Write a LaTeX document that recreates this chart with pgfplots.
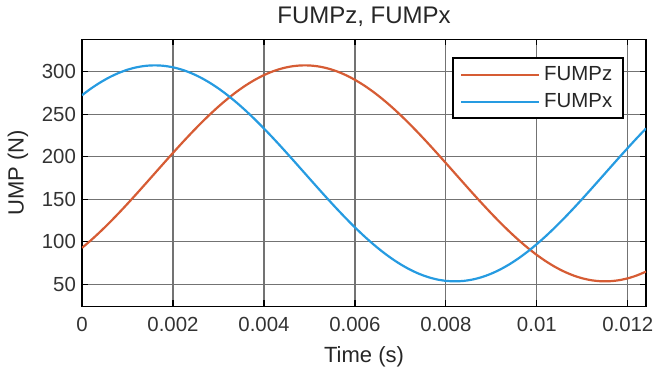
\documentclass[border=0pt]{standalone}
\usepackage{fontspec}
\setmainfont{Liberation Sans}
\usepackage{pgfplots}
\usepackage{pgfplotstable}
\pgfplotsset{compat=1.18}
\definecolor{cz}{RGB}{214,92,52}
\definecolor{cx}{RGB}{38,155,225}
\pgfplotstableread{
t z x
0.0000 92.86 272.41
0.0002 101.99 280.33
0.0004 111.84 287.34
0.0006 122.31 293.38
0.0008 133.30 298.40
0.0010 144.72 302.36
0.0012 156.47 305.21
0.0014 168.43 306.92
0.0016 180.50 307.50
0.0018 192.57 306.92
0.0020 204.53 305.21
0.0022 216.28 302.36
0.0024 227.70 298.40
0.0026 238.69 293.38
0.0028 249.16 287.34
0.0030 259.01 280.33
0.0032 268.14 272.41
0.0034 276.48 263.67
0.0036 283.95 254.17
0.0038 290.49 244.00
0.0040 296.02 233.26
0.0042 300.52 222.04
0.0044 303.92 210.44
0.0046 306.21 198.57
0.0048 307.36 186.54
0.0050 307.36 174.46
0.0052 306.21 162.43
0.0054 303.92 150.56
0.0056 300.52 138.96
0.0058 296.02 127.74
0.0060 290.49 117.00
0.0062 283.95 106.83
0.0064 276.48 97.33
0.0066 268.14 88.59
0.0068 259.01 80.67
0.0070 249.16 73.66
0.0072 238.69 67.62
0.0074 227.70 62.60
0.0076 216.28 58.64
0.0078 204.53 55.79
0.0080 192.57 54.08
0.0082 180.50 53.50
0.0084 168.43 54.08
0.0086 156.47 55.79
0.0088 144.72 58.64
0.0090 133.30 62.60
0.0092 122.31 67.62
0.0094 111.84 73.66
0.0096 101.99 80.67
0.0098 92.86 88.59
0.0100 84.52 97.33
0.0102 77.05 106.83
0.0104 70.51 117.00
0.0106 64.98 127.74
0.0108 60.48 138.96
0.0110 57.08 150.56
0.0112 54.79 162.43
0.0114 53.64 174.46
0.0116 53.64 186.54
0.0118 54.79 198.57
0.0120 57.08 210.44
0.0122 60.48 222.04
0.0124 64.98 233.26
}\datatable
\begin{document}
\begin{tikzpicture}
\begin{axis}[
  scale only axis,
  width=282pt, height=133.5pt,
  xmin=0, xmax=0.0124, ymin=24, ymax=338,
  xtick={0,0.002,0.004,0.006,0.008,0.01,0.012},
  xticklabels={0,0.002,0.004,0.006,0.008,0.01,0.012},
  scaled x ticks=false,
  ytick={50,100,150,200,250,300},
  /pgf/number format/assume math mode=true,
  tick label style={font=\fontsize{10.2}{12}\selectfont, text=black!80},
  xticklabel shift=2pt,
  yticklabel shift=-0.5pt,
  tick align=inside,
  major tick length=3pt,
  tick style={black, line width=0.6pt},
  grid=major,
  major grid style={black!55, line width=0.6pt},
  axis line style={black, line width=0.9pt},
  every axis title shift=0pt,
  title={FUMPz, FUMPx},
  title style={at={(axis description cs:0.5,1.086)}, anchor=center, font=\fontsize{12}{14}\selectfont, text=black!85},
  xlabel={Time (s)},
  xlabel style={at={(axis description cs:0.5,-0.187)}, anchor=center, font=\fontsize{11}{13}\selectfont, text=black!85},
  ylabel={UMP (N)},
  ylabel style={at={(axis description cs:-0.1135,0.5)}, anchor=center, font=\fontsize{11}{13}\selectfont, text=black!85},
  legend style={at={(0.961,0.933)}, anchor=north east, draw=black, line width=0.8pt, font=\fontsize{10.2}{12}\selectfont, inner xsep=3.5pt, inner ysep=2pt, row sep=1pt, text=black!85},
  legend cell align=left,
  legend image code/.code={\draw[#1, line width=1.1pt] (0pt,0pt) -- (39pt,0pt);},
]
\addplot[cz, line width=1.1pt, smooth] table[x=t, y=z] {\datatable};
\addlegendentry{FUMPz}
\addplot[cx, line width=1.1pt, smooth] table[x=t, y=x] {\datatable};
\addlegendentry{FUMPx}
\end{axis}
\path ([xshift=-41pt,yshift=-34.5pt]current axis.south west) rectangle ([xshift=10pt,yshift=19pt]current axis.north east);
\end{tikzpicture}
\end{document}
